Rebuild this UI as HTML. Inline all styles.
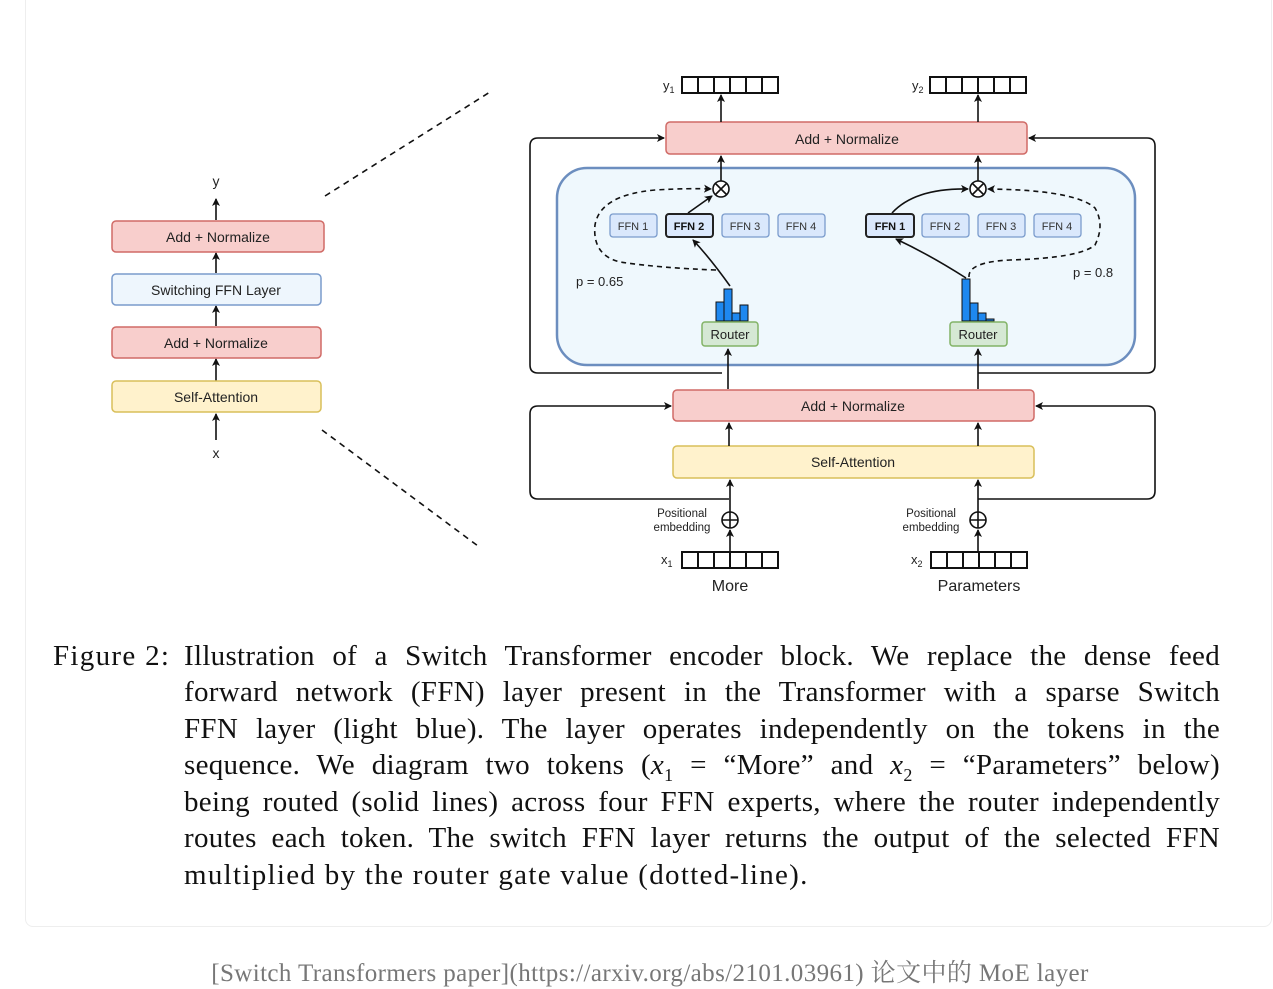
<!DOCTYPE html>
<html><head><meta charset="utf-8"><style>
body{margin:0;width:1273px;height:989px;background:#fff;position:relative;overflow:hidden;font-family:"Liberation Sans",sans-serif}
.card{position:absolute;left:25px;top:-10px;width:1245px;height:935px;border:1px solid #eee;border-radius:8px}
svg{position:absolute;left:0;top:0}
.cap{position:absolute;font-family:"Liberation Serif",serif;font-size:29px;letter-spacing:1.3px;color:#111}
.ln{position:absolute;left:184px;width:1036px;text-align:justify;text-align-last:justify;white-space:nowrap;letter-spacing:0.3px}
.foot{position:absolute;top:953px;left:0;width:1300px;text-align:center;font-family:"Liberation Serif","Noto Serif CJK SC",serif;font-size:25px;letter-spacing:0.4px;color:#777}
</style></head><body>
<div class="card"></div>
<svg width="1273" height="989" viewBox="0 0 1273 989" font-family="Liberation Sans, sans-serif">
<defs><marker id="a" markerWidth="8" markerHeight="8" refX="7" refY="4" orient="auto" markerUnits="userSpaceOnUse"><path d="M0,0 L8,4 L0,8 L2,4z" fill="#111"/></marker></defs>
<g stroke="#111" stroke-width="1.6" fill="none">
<line x1="216" y1="220" x2="216" y2="199" marker-end="url(#a)"/>
<line x1="216" y1="273" x2="216" y2="253" marker-end="url(#a)"/>
<line x1="216" y1="326" x2="216" y2="306" marker-end="url(#a)"/>
<line x1="216" y1="381" x2="216" y2="359" marker-end="url(#a)"/>
<line x1="216" y1="440" x2="216" y2="414" marker-end="url(#a)"/>
<line x1="325" y1="196" x2="490" y2="92" stroke-dasharray="6,5"/>
<line x1="322" y1="430" x2="478" y2="546" stroke-dasharray="6,5"/>
</g>
<rect x="112" y="221" width="212" height="31" rx="4" fill="#f8cecc" stroke="#d06a66" stroke-width="1.5"/>
<rect x="112" y="274" width="209" height="31" rx="4" fill="#eef6fd" stroke="#7a9bcc" stroke-width="1.5"/>
<rect x="112" y="327" width="209" height="31" rx="4" fill="#f8cecc" stroke="#d06a66" stroke-width="1.5"/>
<rect x="112" y="381" width="209" height="31" rx="4" fill="#fff2cc" stroke="#d9bf5a" stroke-width="1.5"/>
<g font-size="14" text-anchor="middle" fill="#222">
<text x="216" y="186">y</text>
<text x="218" y="242">Add + Normalize</text>
<text x="216" y="295">Switching FFN Layer</text>
<text x="216" y="348">Add + Normalize</text>
<text x="216" y="402">Self-Attention</text>
<text x="216" y="458">x</text>
</g>
<g stroke="#111" stroke-width="1.6" fill="none">
<path d="M722,373 H538 Q530,373 530,365 V146 Q530,138 538,138 H664" marker-end="url(#a)"/>
<path d="M978,373 H1147 Q1155,373 1155,365 V146 Q1155,138 1147,138 H1029" marker-end="url(#a)"/>
<path d="M729,499 H538 Q530,499 530,491 V414 Q530,406 538,406 H671" marker-end="url(#a)"/>
<path d="M978,499 H1147 Q1155,499 1155,491 V414 Q1155,406 1147,406 H1036" marker-end="url(#a)"/>
</g>
<rect x="557" y="168" width="578" height="197" rx="30" fill="#eff8fd" stroke="#6c8ebf" stroke-width="2.5"/>
<rect x="666" y="122" width="361" height="32" rx="4" fill="#f8cecc" stroke="#d06a66" stroke-width="1.5"/>
<rect x="673" y="390" width="361" height="31" rx="4" fill="#f8cecc" stroke="#d06a66" stroke-width="1.5"/>
<rect x="673" y="446" width="361" height="32" rx="4" fill="#fff2cc" stroke="#d9bf5a" stroke-width="1.5"/>
<g stroke="#111" stroke-width="1.6" fill="none">
<line x1="721" y1="122" x2="721" y2="95" marker-end="url(#a)"/>
<line x1="978" y1="122" x2="978" y2="95" marker-end="url(#a)"/>
<line x1="721" y1="181" x2="721" y2="156" marker-end="url(#a)"/>
<line x1="978" y1="181" x2="978" y2="156" marker-end="url(#a)"/>
<line x1="728" y1="389" x2="728" y2="349" marker-end="url(#a)"/>
<line x1="978" y1="389" x2="978" y2="349" marker-end="url(#a)"/>
<line x1="729" y1="446" x2="729" y2="423" marker-end="url(#a)"/>
<line x1="978" y1="446" x2="978" y2="423" marker-end="url(#a)"/>
<line x1="730" y1="512" x2="730" y2="480" marker-end="url(#a)"/>
<line x1="978" y1="512" x2="978" y2="480" marker-end="url(#a)"/>
<line x1="730" y1="568" x2="730" y2="530" marker-end="url(#a)"/>
<line x1="978" y1="568" x2="978" y2="530" marker-end="url(#a)"/>
<circle cx="721" cy="189" r="8" fill="#fff"/><path d="M715,183 L727,195 M727,183 L715,195"/>
<circle cx="978" cy="189" r="8" fill="#fff"/><path d="M972,183 L984,195 M984,183 L972,195"/>
<circle cx="730" cy="520" r="8" fill="#fff"/><path d="M722,520 H738 M730,512 V528"/>
<circle cx="978" cy="520" r="8" fill="#fff"/><path d="M970,520 H986 M978,512 V528"/>
<path d="M730,286 Q710,258 693,240" marker-end="url(#a)"/>
<path d="M688,213 L712,196" marker-end="url(#a)"/>
<path d="M966,278 Q930,255 896,239" marker-end="url(#a)"/>
<path d="M892,213 Q915,188 968,189" marker-end="url(#a)"/>
<path d="M716,270 Q660,268 620,262 Q592,255 595,225 Q600,195 655,190 Q690,188 711,189" stroke-dasharray="5,4" marker-end="url(#a)"/>
<path d="M969,277 Q968,262 1010,260 Q1080,258 1095,245 Q1105,225 1095,208 Q1075,190 988,189" stroke-dasharray="5,4" marker-end="url(#a)"/>
</g>
<g stroke="#111" stroke-width="2" fill="#fff">
<rect x="682" y="77" width="96" height="16"/><rect x="930" y="77" width="96" height="16"/>
<rect x="682" y="552" width="96" height="16"/><rect x="931" y="552" width="96" height="16"/>
</g>
<g stroke="#111" stroke-width="2">
<path d="M698,77v16M714,77v16M730,77v16M746,77v16M762,77v16"/>
<path d="M946,77v16M962,77v16M978,77v16M994,77v16M1010,77v16"/>
<path d="M698,552v16M714,552v16M730,552v16M746,552v16M762,552v16"/>
<path d="M947,552v16M963,552v16M979,552v16M995,552v16M1011,552v16"/>
</g>
<g fill="#dae8fc" stroke="#7a9bcc" stroke-width="1.3">
<rect x="610" y="214" width="47" height="23" rx="3"/>
<rect x="722" y="214" width="47" height="23" rx="3"/>
<rect x="778" y="214" width="47" height="23" rx="3"/>
<rect x="922" y="214" width="47" height="23" rx="3"/>
<rect x="978" y="214" width="47" height="23" rx="3"/>
<rect x="1034" y="214" width="47" height="23" rx="3"/>
</g>
<rect x="666" y="214" width="47" height="23" rx="3" fill="#dae8fc" stroke="#222" stroke-width="2"/>
<rect x="866" y="214" width="48" height="23" rx="3" fill="#dae8fc" stroke="#222" stroke-width="2"/>
<g font-size="11" text-anchor="middle" fill="#333">
<text x="633" y="230">FFN 1</text><text x="745" y="230">FFN 3</text><text x="801" y="230">FFN 4</text>
<text x="945" y="230">FFN 2</text><text x="1001" y="230">FFN 3</text><text x="1057" y="230">FFN 4</text>
<text x="689" y="230" font-weight="bold" fill="#111">FFN 2</text><text x="890" y="230" font-weight="bold" fill="#111">FFN 1</text>
</g>
<g fill="#1e88f0" stroke="#111" stroke-width="1">
<rect x="716" y="302" width="8" height="19"/><rect x="724" y="289" width="8" height="32"/><rect x="732" y="313" width="8" height="8"/><rect x="740" y="305" width="8" height="16"/>
<rect x="962" y="279" width="8" height="42"/><rect x="970" y="303" width="8" height="18"/><rect x="978" y="313" width="8" height="8"/><rect x="986" y="319" width="8" height="2"/>
</g>
<rect x="702" y="322" width="56" height="24" rx="3" fill="#d5e8d4" stroke="#82b366" stroke-width="1.5"/>
<rect x="950" y="322" width="57" height="24" rx="3" fill="#d5e8d4" stroke="#82b366" stroke-width="1.5"/>
<g fill="#222" font-size="13">
<text x="730" y="339" text-anchor="middle">Router</text>
<text x="978" y="339" text-anchor="middle">Router</text>
<text x="576" y="286">p = 0.65</text>
<text x="1073" y="277">p = 0.8</text>
<text x="847" y="144" text-anchor="middle" font-size="14">Add + Normalize</text>
<text x="853" y="411" text-anchor="middle" font-size="14">Add + Normalize</text>
<text x="853" y="467" text-anchor="middle" font-size="14">Self-Attention</text>
<text x="663" y="90">y<tspan font-size="9" dy="3">1</tspan></text>
<text x="912" y="90">y<tspan font-size="9" dy="3">2</tspan></text>
<text x="661" y="564">x<tspan font-size="9" dy="3">1</tspan></text>
<text x="911" y="564">x<tspan font-size="9" dy="3">2</tspan></text>
<text x="682" y="517" font-size="11.5" text-anchor="middle">Positional</text>
<text x="682" y="531" font-size="11.5" text-anchor="middle">embedding</text>
<text x="931" y="517" font-size="11.5" text-anchor="middle">Positional</text>
<text x="931" y="531" font-size="11.5" text-anchor="middle">embedding</text>
<text x="730" y="591" font-size="16" text-anchor="middle">More</text>
<text x="979" y="591" font-size="16" text-anchor="middle">Parameters</text>
</g>
</svg>
<div class="cap" style="left:53px;top:640px">Figure 2:</div>
<div class="cap ln" style="top:640px">Illustration of a Switch Transformer encoder block. We replace the dense feed</div>
<div class="cap ln" style="top:676px">forward network (FFN) layer present in the Transformer with a sparse Switch</div>
<div class="cap ln" style="top:713px">FFN layer (light blue). The layer operates independently on the tokens in the</div>
<div class="cap ln" style="top:749px">sequence. We diagram two tokens (<i>x</i><sub style="font-size:18px">1</sub> = “More” and <i>x</i><sub style="font-size:18px">2</sub> = “Parameters” below)</div>
<div class="cap ln" style="top:786px">being routed (solid lines) across four FFN experts, where the router independently</div>
<div class="cap ln" style="top:822px">routes each token. The switch FFN layer returns the output of the selected FFN</div>
<div class="cap" style="left:184px;top:859px">multiplied by the router gate value (dotted-line).</div>
<div class="foot">[Switch Transformers paper](https://arxiv.org/abs/2101.03961) 论文中的 MoE layer</div>
</body></html>
